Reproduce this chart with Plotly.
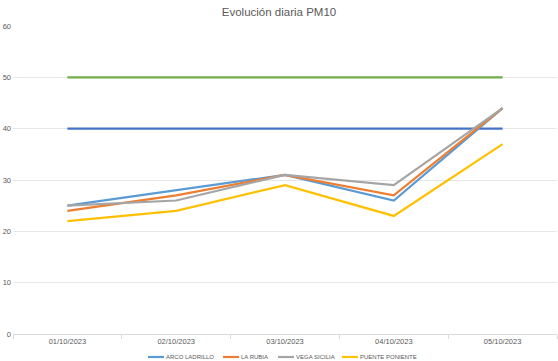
import plotly.graph_objects as go

fechas = ["01/10/2023", "02/10/2023", "03/10/2023", "04/10/2023", "05/10/2023"]
arco_ladrillo = [25, 28, 31, 26, 44]
la_rubia = [24, 27, 31, 27, 44]
vega_sicilia = [25, 26, 31, 29, 44]
puente_poniente = [22, 24, 29, 23, 37]
limite_40 = [40, 40, 40, 40, 40]
limite_50 = [50, 50, 50, 50, 50]

nombres = ["ARCO LADRILLO", "LA RUBIA", "VEGA SICILIA", "PUENTE PONIENTE"]
valores = [arco_ladrillo, la_rubia, vega_sicilia, puente_poniente]
colores = ["#5B9BD5", "#ED7D31", "#A5A5A5", "#FFC000"]

W, H = 558, 361
M = dict(l=13, r=1, t=26, b=27)
plot_w = W - M["l"] - M["r"]
plot_h = H - M["t"] - M["b"]

fig = go.Figure()
fig.add_trace(go.Scatter(x=fechas, y=limite_50, mode="lines", showlegend=False,
                         line=dict(color="#70AD47", width=2.2), hoverinfo="skip"))
fig.add_trace(go.Scatter(x=fechas, y=limite_40, mode="lines", showlegend=False,
                         line=dict(color="#4472C4", width=2.2), hoverinfo="skip"))
for name, vals, color in zip(nombres, valores, colores):
    fig.add_trace(go.Scatter(x=fechas, y=vals, mode="lines", name=name, showlegend=False,
                             line=dict(color=color, width=2.2)))

# Legend drawn Excel-style (short line sample, text right next to it)
leg_px_start = [148, 223, 278, 342]
leg_line_len = 16
leg_y_px = 357


def px_x(px):
    return (px - M["l"]) / plot_w


def px_y(py):
    return (H - M["b"] - py) / plot_h


shapes = []
annotations = []
for name, color, start in zip(nombres, colores, leg_px_start):
    shapes.append(dict(type="line", xref="paper", yref="paper",
                       x0=px_x(start), x1=px_x(start + leg_line_len),
                       y0=px_y(leg_y_px), y1=px_y(leg_y_px),
                       line=dict(color=color, width=2.2)))
    annotations.append(dict(text=name, xref="paper", yref="paper",
                            x=px_x(start + leg_line_len + 0.5), y=px_y(leg_y_px),
                            xanchor="left", yanchor="middle", showarrow=False,
                            font=dict(size=6, color="#595959"), borderpad=0))

fig.update_layout(
    width=W, height=H,
    margin=dict(**M, autoexpand=False),
    paper_bgcolor="white", plot_bgcolor="white",
    font=dict(family="Liberation Sans, Arial, sans-serif", color="#595959"),
    title=dict(text="Evolución diaria PM10", x=0.5, xanchor="center",
               y=1 - 12 / H, yanchor="middle", yref="container",
               font=dict(size=11.5, color="#595959")),
    showlegend=False,
    shapes=shapes,
    annotations=annotations,
)
fig.update_xaxes(type="category", showgrid=False, showline=True, linecolor="#D9D9D9",
                 linewidth=1, ticks="outside", tickson="boundaries", ticklen=4,
                 tickcolor="#D9D9D9", tickfont=dict(size=7.5, color="#595959"),
                 range=[-0.5, 4.5], automargin=False)
fig.update_yaxes(range=[0, 60], dtick=10, showgrid=True, gridcolor="#E6E6E6",
                 gridwidth=1, zeroline=False, showline=False, automargin=False,
                 tickfont=dict(size=7.5, color="#595959"), ticklabelstandoff=1)

fig.write_html("out.html", config={"displayModeBar": False},
               post_script="document.body.style.margin='0';document.body.style.overflow='hidden';")
